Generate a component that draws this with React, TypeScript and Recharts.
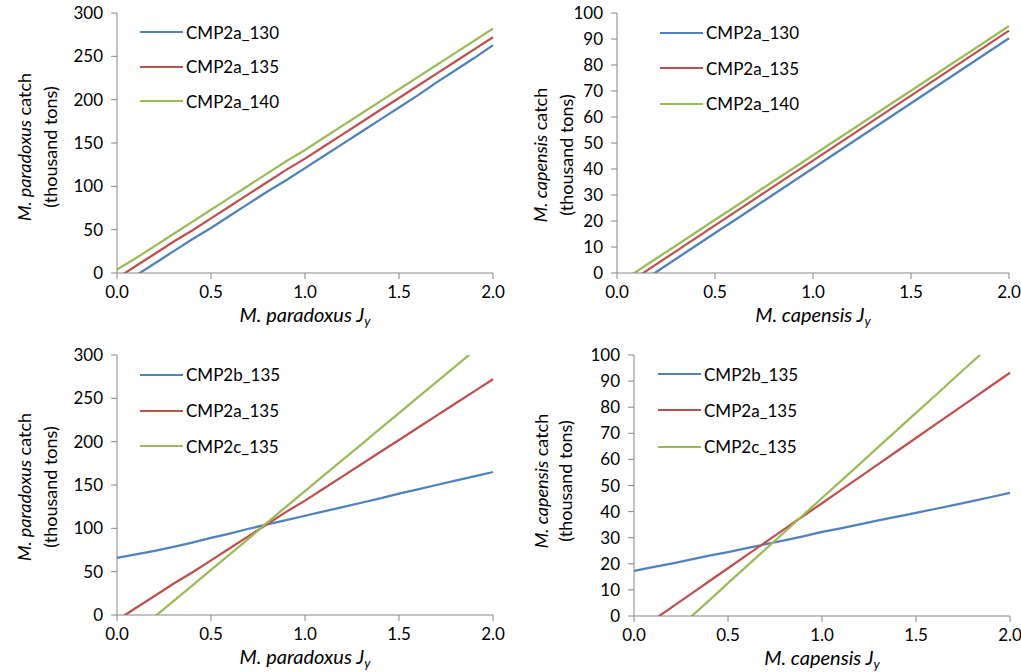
import React from 'react';
import { LineChart, Line, XAxis, YAxis, Legend } from 'recharts';

// M. paradoxus / M. capensis J_y values on the x axis
const jy = [0, 0.1, 0.2, 0.3, 0.4, 0.5, 0.6, 0.7, 0.8, 0.9, 1.0, 1.1, 1.2, 1.3, 1.4, 1.5, 1.6, 1.7, 1.8, 1.9, 2.0];
const xTicks = [0, 0.5, 1, 1.5, 2];
const parTicks = [0, 50, 100, 150, 200, 250, 300];
const capTicks = [0, 10, 20, 30, 40, 50, 60, 70, 80, 90, 100];

// top row: CMP2a variants
const par2a130 = [-17, -3, 11, 25, 39, 52, 66, 80, 94, 107, 121, 135, 149, 163, 177, 191, 205, 220, 234, 248, 263];
const par2a135 = [-6, 8, 22, 36, 49, 63, 77, 91, 105, 119, 132, 146, 160, 174, 188, 202, 216, 230, 244, 258, 272];
const par2a140 = [4, 17, 31, 45, 59, 73, 87, 101, 115, 129, 142, 156, 170, 184, 198, 212, 226, 240, 254, 268, 282];

const cap2a130 = [-9.5, -4.6, 0.4, 5.4, 10.4, 15.4, 20.3, 25.3, 30.3, 35.3, 40.3, 45.3, 50.3, 55.3, 60.3, 65.3, 70.3, 75.3, 80.3, 85.3, 90.3];
const cap2a135 = [-6.7, -1.7, 3.3, 8.3, 13.3, 18.3, 23.3, 28.3, 33.3, 38.3, 43.2, 48.2, 53.2, 58.2, 63.2, 68.2, 73.2, 78.2, 83.2, 88.2, 93.2];
const cap2a140 = [-4.4, 0.6, 5.6, 10.5, 15.5, 20.5, 25.4, 30.4, 35.4, 40.3, 45.3, 50.3, 55.2, 60.2, 65.2, 70.1, 75.1, 80.1, 85.0, 90.0, 95.0];

// bottom row: CMP2b / CMP2a / CMP2c at 135
const par2b135 = [66, 70, 74, 78.5, 83.5, 89, 94, 99.5, 104.5, 109.5, 114.5, 119.5, 124.5, 129.5, 134.5, 140, 145, 150, 155, 160, 165];
const par2c135 = [-38, -20, -2, 16, 34, 52, 70, 88, 107, 125, 143, 161, 179, 197, 215, 233, 251, 269, 287, 305, 323];

const cap2b135 = [17.3, 18.7, 20.1, 21.6, 23.1, 24.5, 26, 27.5, 29, 30.5, 32.2, 33.6, 35.1, 36.6, 38.1, 39.5, 41, 42.5, 44, 45.6, 47.2];
const cap2c135 = [-20, -13.5, -7, -0.5, 6, 12.6, 19.1, 25.6, 32.1, 38.7, 45.2, 51.7, 58.2, 64.8, 71.3, 77.8, 84.3, 90.9, 97.4, 103.9, 110.4];

const BLUE = '#4F81BD';
const RED = '#C0504D';
const GREEN = '#9BBB59';
const AXIS = '#868686';
const FONT = 'Lato, "Open Sans", sans-serif';

type Series = { name: string; color: string; values: number[] };

type PanelProps = {
  left: number;
  top: number;
  width: number;
  height: number;
  margin: { top: number; right: number; bottom: number; left: number };
  yAxisWidth: number;
  xAxisHeight: number;
  yMax: number;
  yTicks: number[];
  species: string;
  series: Series[];
  legendPos: { left: number; top: number; row: number };
  yTitlePos: { x1: number; x2: number; cy: number };
  xTitleDy: number;
};

const makeLegend = (row: number) => (props: any) => (
  <div>
    {(props.payload || []).map((p: any) => (
      <div key={p.value} style={{ display: 'flex', alignItems: 'center', height: row }}>
        <span style={{ display: 'inline-block', width: 43, borderTop: `2.5px solid ${p.color}` }} />
        <span style={{ marginLeft: 3, fontSize: 17, fontFamily: FONT, color: '#000', lineHeight: 1 }}>{p.value}</span>
      </div>
    ))}
  </div>
);

const makeYTitle = (species: string, x1: number, x2: number, cy: number) => () => (
  <g fontFamily={FONT} fontSize={18} fill="#000">
    <text transform={`translate(${x1},${cy}) rotate(-90)`} textAnchor="middle" dominantBaseline="central">
      <tspan fontStyle="italic">{species}</tspan>
      <tspan> catch</tspan>
    </text>
    <text transform={`translate(${x2},${cy}) rotate(-90)`} textAnchor="middle" dominantBaseline="central">
      (thousand tons)
    </text>
  </g>
);

const makeXTitle = (species: string, dy: number) => (props: any) => {
  const vb = props.viewBox || { x: 0, y: 0, width: 0 };
  return (
    <text x={vb.x + vb.width / 2} y={vb.y + dy} textAnchor="middle" fontFamily={FONT} fontSize={20} fontStyle="italic" fill="#000">
      {species} J
      <tspan fontSize={13} dy={4}>y</tspan>
    </text>
  );
};

const Panel = (p: PanelProps) => {
  const rows = jy.map((x, i) => {
    const r: Record<string, number> = { jy: x };
    p.series.forEach((s, k) => {
      r['s' + k] = s.values[i];
    });
    return r;
  });
  return (
    <div style={{ position: 'absolute', left: p.left, top: p.top }}>
      <LineChart width={p.width} height={p.height} data={rows} margin={p.margin}>
        <XAxis
          dataKey="jy"
          type="number"
          domain={[0, 2]}
          ticks={xTicks}
          interval={0}
          tickFormatter={(v: number) => v.toFixed(1)}
          height={p.xAxisHeight}
          axisLine={{ stroke: AXIS }}
          tickLine={{ stroke: AXIS }}
          tickSize={6}
          tickMargin={7}
          tick={{ fill: '#000', fontSize: 17, fontFamily: FONT }}
          label={{ content: makeXTitle(p.species, p.xTitleDy) }}
        />
        <YAxis
          type="number"
          domain={[0, p.yMax]}
          ticks={p.yTicks}
          interval={0}
          allowDataOverflow
          width={p.yAxisWidth}
          axisLine={{ stroke: AXIS }}
          tickLine={{ stroke: AXIS }}
          tickSize={6}
          tickMargin={8}
          tick={{ fill: '#000', fontSize: 17, fontFamily: FONT }}
          label={{ content: makeYTitle(p.species, p.yTitlePos.x1, p.yTitlePos.x2, p.yTitlePos.cy) }}
        />
        <Legend
          layout="vertical"
          align="center"
          verticalAlign="middle"
          itemSorter="dataKey"
          content={makeLegend(p.legendPos.row)}
          wrapperStyle={{ left: p.legendPos.left, top: p.legendPos.top }}
        />
        {p.series.map((s, k) => (
          <Line
            key={s.name}
            type="linear"
            dataKey={'s' + k}
            name={s.name}
            stroke={s.color}
            strokeWidth={2.25}
            dot={false}
            activeDot={false}
            isAnimationActive={false}
          />
        ))}
      </LineChart>
    </div>
  );
};

export default function App() {
  return (
    <div style={{ position: 'absolute', left: 0, top: 0, width: 1021, height: 672, background: '#fff' }}>
      <Panel
        left={0}
        top={0}
        width={510}
        height={336}
        margin={{ top: 13, right: 17, bottom: 0, left: 0 }}
        yAxisWidth={117}
        xAxisHeight={63}
        yMax={300}
        yTicks={parTicks}
        species="M. paradoxus"
        series={[
          { name: 'CMP2a_130', color: BLUE, values: par2a130 },
          { name: 'CMP2a_135', color: RED, values: par2a135 },
          { name: 'CMP2a_140', color: GREEN, values: par2a140 },
        ]}
        legendPos={{ left: 140, top: 15, row: 34.5 }}
        yTitlePos={{ x1: 24, x2: 50, cy: 147 }}
        xTitleDy={49}
      />
      <Panel
        left={510}
        top={0}
        width={511}
        height={336}
        margin={{ top: 13, right: 12, bottom: 0, left: 0 }}
        yAxisWidth={107}
        xAxisHeight={63}
        yMax={100}
        yTicks={capTicks}
        species="M. capensis"
        series={[
          { name: 'CMP2a_130', color: BLUE, values: cap2a130 },
          { name: 'CMP2a_135', color: RED, values: cap2a135 },
          { name: 'CMP2a_140', color: GREEN, values: cap2a140 },
        ]}
        legendPos={{ left: 150, top: 15, row: 35.5 }}
        yTitlePos={{ x1: 30, x2: 56, cy: 155 }}
        xTitleDy={49}
      />
      <Panel
        left={0}
        top={336}
        width={510}
        height={336}
        margin={{ top: 19, right: 17, bottom: 0, left: 0 }}
        yAxisWidth={117}
        xAxisHeight={57}
        yMax={300}
        yTicks={parTicks}
        species="M. paradoxus"
        series={[
          { name: 'CMP2b_135', color: BLUE, values: par2b135 },
          { name: 'CMP2a_135', color: RED, values: par2a135 },
          { name: 'CMP2c_135', color: GREEN, values: par2c135 },
        ]}
        legendPos={{ left: 140, top: 21, row: 35.8 }}
        yTitlePos={{ x1: 24, x2: 50, cy: 151 }}
        xTitleDy={49}
      />
      <Panel
        left={510}
        top={336}
        width={511}
        height={336}
        margin={{ top: 19, right: 11, bottom: 0, left: 0 }}
        yAxisWidth={124}
        xAxisHeight={56}
        yMax={100}
        yTicks={capTicks}
        species="M. capensis"
        series={[
          { name: 'CMP2b_135', color: BLUE, values: cap2b135 },
          { name: 'CMP2a_135', color: RED, values: cap2a135 },
          { name: 'CMP2c_135', color: GREEN, values: cap2c135 },
        ]}
        legendPos={{ left: 148, top: 20, row: 36.3 }}
        yTitlePos={{ x1: 31, x2: 55, cy: 145 }}
        xTitleDy={49}
      />
    </div>
  );
}
